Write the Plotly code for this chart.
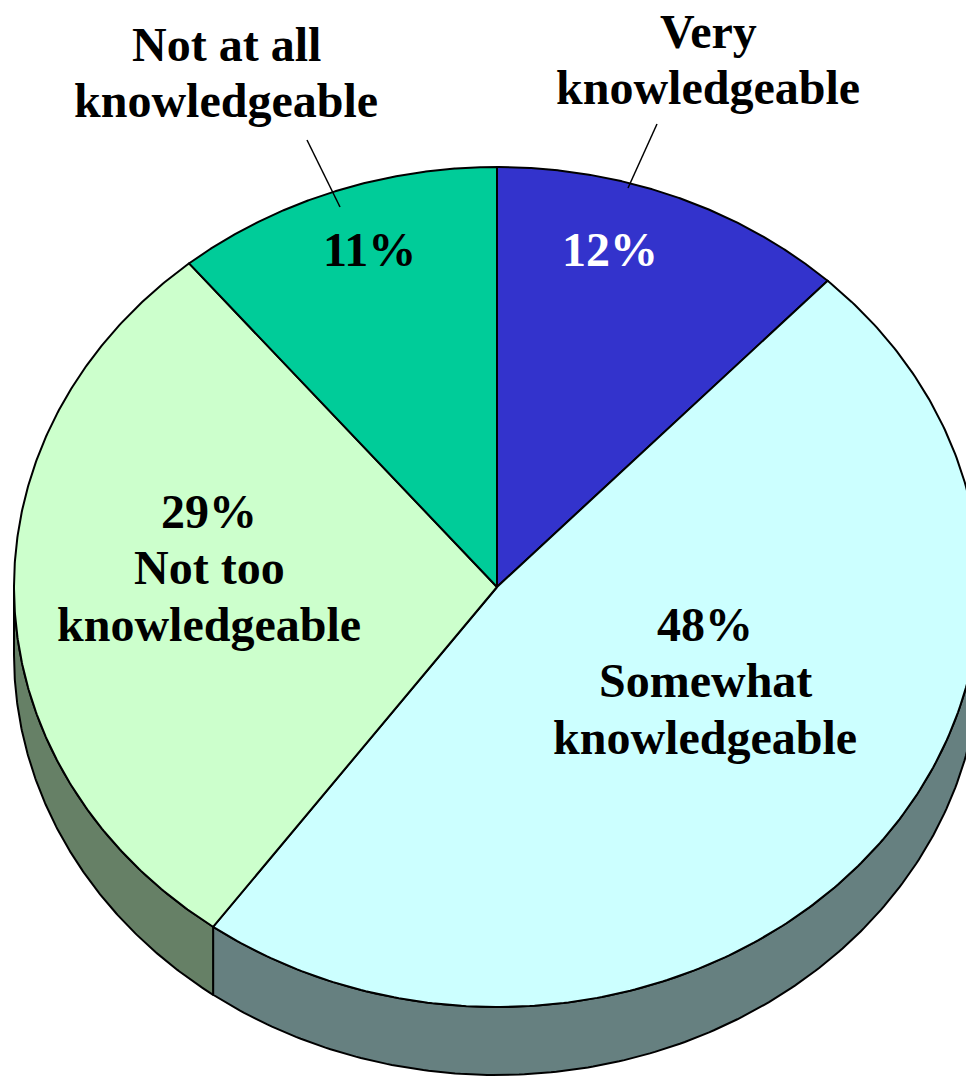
import numpy as np
import plotly.graph_objects as go

# survey shares, clockwise from 12 o'clock
labels = ["Very knowledgeable", "Somewhat knowledgeable",
          "Not too knowledgeable", "Not at all knowledgeable"]
values = [12, 48, 29, 11]
top_colors = ["#3333CC", "#CCFFFF", "#CCFFCC", "#00CC99"]
side_colors = ["#1A1A66", "#668080", "#668066", "#006650"]

# text lines: (text, x, y, color)
text_lines = [
    ("Very", 708, 31, "black"),
    ("knowledgeable", 708, 87, "black"),
    ("Not at all", 226, 44, "black"),
    ("knowledgeable", 226, 100, "black"),
    ("12%", 610, 249, "white"),
    ("11%", 369, 249, "black"),
    ("29%", 209, 511, "black"),
    ("Not too", 209, 567, "black"),
    ("knowledgeable", 209, 624, "black"),
    ("48%", 705, 624, "black"),
    ("Somewhat", 705, 680, "black"),
    ("knowledgeable", 705, 737, "black"),
]
# leader lines from label to slice edge
leaders = [((657, 124), (628, 188)), ((307, 140), (340, 207))]

W, H = 974, 1078
PAD = 8  # page body margin
cx, cy, rx, ry, depth = 497, 587, 483, 420, 68


def ellipse(t_deg, dy=0):
    t = np.radians(t_deg)
    return cx + rx * np.sin(t), cy - ry * np.cos(t) + dy


bounds = np.concatenate([[0], np.cumsum(values)]) / sum(values) * 360

fig = go.Figure()

# visible side walls (front half of the pie, 90..270 deg)
for i in range(len(values)):
    a, b = max(bounds[i], 90), min(bounds[i + 1], 270)
    if a >= b:
        continue
    t = np.linspace(a, b, 200)
    xt, yt = ellipse(t)
    xb, yb = ellipse(t[::-1], depth)
    fig.add_trace(go.Scatter(
        x=np.concatenate([xt, xb, xt[:1]]), y=np.concatenate([yt, yb, yt[:1]]),
        mode="lines", fill="toself", fillcolor=side_colors[i],
        line=dict(color="black", width=2), hoverinfo="skip", showlegend=False))

# top face slices
for i in range(len(values)):
    t = np.linspace(bounds[i], bounds[i + 1], 300)
    xs, ys = ellipse(t)
    fig.add_trace(go.Scatter(
        x=np.concatenate([[cx], xs, [cx]]), y=np.concatenate([[cy], ys, [cy]]),
        mode="lines", fill="toself", fillcolor=top_colors[i],
        line=dict(color="black", width=2), name=labels[i],
        hoverinfo="name", showlegend=False))

for (x0, y0), (x1, y1) in leaders:
    fig.add_trace(go.Scatter(x=[x0, x1], y=[y0, y1], mode="lines",
                             line=dict(color="black", width=1.5),
                             hoverinfo="skip", showlegend=False))

for txt, x, y, col in text_lines:
    fig.add_annotation(x=x, y=y, text=txt, showarrow=False,
                       xanchor="center", yanchor="middle",
                       font=dict(family="Liberation Serif", size=48,
                                 color=col, weight="bold"))

fig.update_layout(
    width=W - PAD, height=H - PAD,
    margin=dict(l=0, r=0, t=0, b=0),
    paper_bgcolor="white", plot_bgcolor="white",
    xaxis=dict(range=[PAD, W], visible=False, fixedrange=True),
    yaxis=dict(range=[H, PAD], visible=False, fixedrange=True),
)

fig.write_html("out.html")
